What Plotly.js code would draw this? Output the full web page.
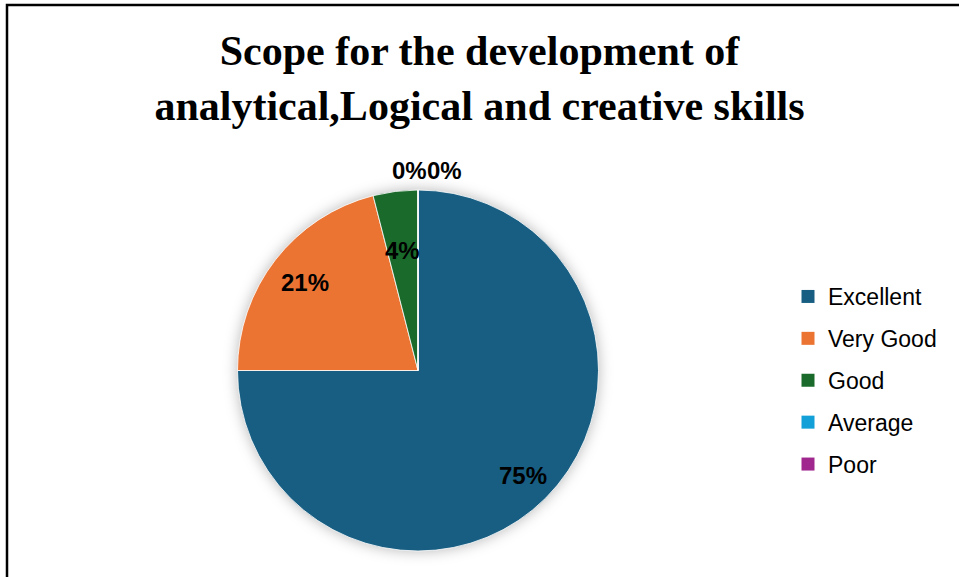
<!DOCTYPE html>
<html>
<head>
<meta charset="utf-8">
<script src="https://cdn.plot.ly/plotly-3.0.1.min.js"></script>
<style>
html,body{margin:0;padding:0;background:#fff;}
#chart{width:959px;height:577px;}
.pielayer{filter: drop-shadow(0px 0px 7px rgba(0,0,0,0.28));}
</style>
</head>
<body>
<div id="chart"></div>
<script>
const categories = ["Excellent", "Very Good", "Good", "Average", "Poor"];
const values = [75, 21, 4, 0, 0];
const colors = ["#175E82", "#EB7433", "#1A6B2B", "#139FD7", "#A0278D"];

const W = 959, H = 577;
const px = x => x / W;
const py = y => 1 - y / H;

// pie geometry (pixels)
const PL = 237, PR = 599, PT = 190, PB = 551;
const cx = (PL + PR) / 2, cy = (PT + PB) / 2, R = (PR - PL) / 2;

const pie = {
  type: "pie",
  labels: categories,
  values: values,
  sort: false,
  direction: "clockwise",
  rotation: 0,
  marker: {colors: colors, line: {color: "#ffffff", width: 0.8}},
  textinfo: "none",
  hoverinfo: "label+percent",
  showlegend: false,
  domain: {x: [px(PL), px(PR)], y: [py(PB), py(PT)]}
};

const legendTraces = categories.map((c, i) => ({
  type: "scatter",
  mode: "markers",
  x: [null], y: [null],
  name: c,
  legendgroup: c,
  marker: {symbol: "square", size: 13, color: colors[i]},
  showlegend: true,
  hoverinfo: "skip"
}));

// data labels placed along each slice's mid-angle
const total = values.reduce((a, b) => a + b, 0);
const labelRadius = [0.82, 0.79, 0.67, 1.105, 1.105];
const zeroShift = [0, 0, 0, -8, 27];
let cum = 0;
const annotations = values.map((v, i) => {
  const mid = (cum + v / 2) / total * 2 * Math.PI;
  cum += v;
  const d = R * labelRadius[i];
  const x = cx + d * Math.sin(mid) + zeroShift[i];
  const y = cy - d * Math.cos(mid);
  return {
    xref: "paper", yref: "paper",
    x: px(x), y: py(y),
    xanchor: "center", yanchor: "middle",
    showarrow: false,
    text: "<b>" + Math.round(v / total * 100) + "%</b>",
    font: {family: "Liberation Sans, Arial, sans-serif", size: 24, color: "#000"}
  };
});

const layout = {
  width: W, height: H,
  margin: {l: 0, r: 0, t: 0, b: 0},
  paper_bgcolor: "#fff",
  plot_bgcolor: "#fff",
  xaxis: {visible: false, domain: [0.99, 1]},
  yaxis: {visible: false, domain: [0.99, 1]},
  title: {
    text: "<b>Scope for the development of<br>analytical,Logical and creative skills</b>",
    font: {family: "Liberation Serif, Times New Roman, serif", size: 42, color: "#000"},
    x: 0.5, xanchor: "center",
    xref: "paper",
    y: py(65), yanchor: "top", yref: "container"
  },
  legend: {
    x: px(788), xanchor: "left",
    y: py(275), yanchor: "top",
    font: {family: "Liberation Sans, Arial, sans-serif", size: 23, color: "#000"},
    tracegroupgap: 9,
    traceorder: "grouped",
    bgcolor: "rgba(0,0,0,0)"
  },
  annotations: annotations,
  shapes: [{
    type: "rect", xref: "paper", yref: "paper",
    x0: px(7), x1: px(975), y0: py(600), y1: py(5),
    line: {color: "#000", width: 2.5},
    fillcolor: "rgba(0,0,0,0)"
  }],
  showlegend: true
};

Plotly.newPlot("chart", [pie].concat(legendTraces), layout, {displayModeBar: false, staticPlot: true});
</script>
</body>
</html>
